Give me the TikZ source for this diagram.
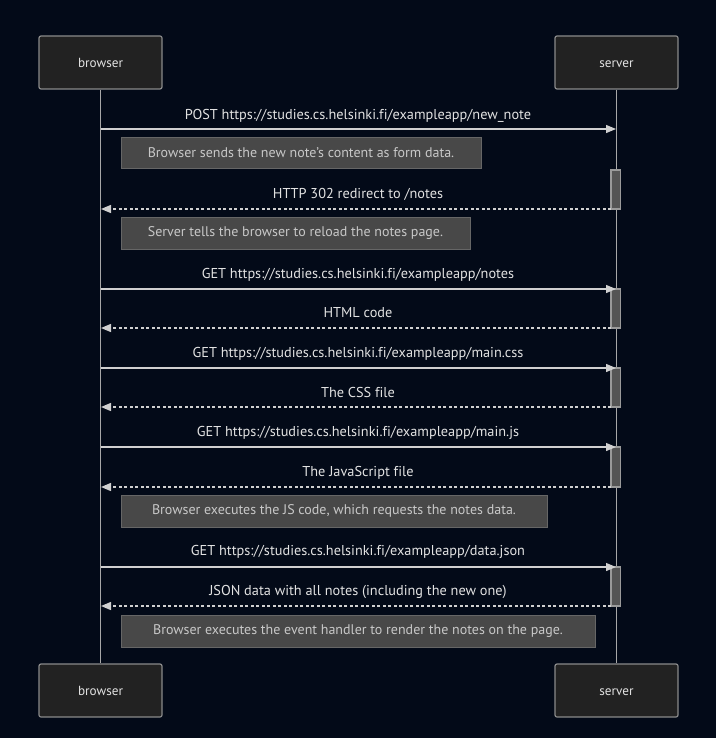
\documentclass[tikz,border=0pt]{standalone}
\usepackage{fontspec}
\setmainfont[Ligatures={NoCommon}]{PT Sans}
\usetikzlibrary{arrows.meta}
\definecolor{bgc}{HTML}{030A18}
\definecolor{actfill}{HTML}{222222}
\definecolor{actline}{HTML}{8A8A8A}
\definecolor{lifeln}{HTML}{A8A8A8}
\definecolor{msgln}{HTML}{D0D0D0}
\definecolor{msgtxt}{HTML}{E2E2E2}
\definecolor{notefill}{HTML}{484848}
\definecolor{noteline}{HTML}{666666}
\definecolor{notetxt}{HTML}{C8C8C8}
\definecolor{actvfill}{HTML}{555555}
\definecolor{actvline}{HTML}{9A9A9A}
\tikzset{
  actor/.style={draw=actline, line width=1.2pt, fill=actfill, rounded corners=2pt,
    minimum width=123pt, minimum height=53pt, inner sep=0pt,
    text height=10pt, text depth=0pt,
    text=msgtxt, font=\fontsize{13.2}{15}\selectfont},
  lifeline/.style={draw=lifeln, line width=1pt},
  req/.style={draw=msgln, line width=1.2pt, -{Triangle[length=10pt,width=8pt]}},
  resp/.style={draw=msgln, line width=1.4pt, dash pattern=on 3pt off 2.5pt,
    -{Triangle[length=10pt,width=8pt]}},
  msglabel/.style={text=msgtxt, font=\fontsize{14.3}{16}\selectfont, inner sep=0pt,
    text height=10.5pt, text depth=3pt},
  notebox/.style={draw=noteline, line width=1pt, fill=notefill, inner sep=0pt,
    text height=10.5pt, text depth=3pt,
    text=notetxt, font=\fontsize{14}{16}\selectfont},
  activation/.style={draw=actvline, line width=1.2pt, fill=actvfill}
}
\begin{document}
\begin{tikzpicture}[x=1pt,y=-1pt]
  \fill[bgc] (0,0) rectangle (716,738);
  \useasboundingbox (0,0) rectangle (716,738);

  % participants
  \node[actor] (bTop) at (100.5,62.5) {browser};
  \node[actor] (sTop) at (616.5,62.5) {server};
  \node[actor] (bBot) at (100.5,690.5) {browser};
  \node[actor] (sBot) at (616.5,690.5) {server};

  % lifelines
  \draw[lifeline] (bTop.south) -- (bBot.north);
  \draw[lifeline] (sTop.south) -- (sBot.north);

  % activation bars on the server
  \foreach \n/\ya/\yb in {1/170/209, 2/289/328, 3/368/407, 4/447/487, 5/567/606}
    \draw[activation] (611,\ya) rectangle (620.5,\yb) coordinate (act\n);

  % message end points on the lifelines
  \foreach \n/\y in {m1/129, m3/289, m5/368, m7/447, m9/567}{
    \coordinate (b\n) at (101,\y);
    \coordinate (s\n) at (616,\y);
  }
  \foreach \n/\y in {m2/209, m4/328, m6/407, m8/487, m10/606}{
    \coordinate (b\n) at (101,\y);
    \coordinate (s\n) at (611,\y);
  }

  % messages
  \draw[req] (bm1) -- (sm1);
  \node[msglabel] (l1) at (358,115.5) {POST https://studies.cs.helsinki.fi/exampleapp/new\_note};
  \node[notebox, minimum width=360pt, minimum height=31pt] (n1) at (301,153.5)
    {Browser sends the new note's content as form data.};

  \draw[resp] (sm2) -- (bm2);
  \node[msglabel] (l2) at (358,194.5) {HTTP 302 redirect to /notes};
  \node[notebox, minimum width=349pt, minimum height=32pt] (n2) at (295.5,233)
    {Server tells the browser to reload the notes page.};

  \draw[req] (bm3) -- (sm3);
  \node[msglabel] (l3) at (358,274.5) {GET https://studies.cs.helsinki.fi/exampleapp/notes};

  \draw[resp] (sm4) -- (bm4);
  \node[msglabel] (l4) at (358,313.5) {HTML code};

  \draw[req] (bm5) -- (sm5);
  \node[msglabel] (l5) at (358,353.5) {GET https://studies.cs.helsinki.fi/exampleapp/main.css};

  \draw[resp] (sm6) -- (bm6);
  \node[msglabel] (l6) at (358,393.5) {The CSS file};

  \draw[req] (bm7) -- (sm7);
  \node[msglabel] (l7) at (358,432.5) {GET https://studies.cs.helsinki.fi/exampleapp/main.js};

  \draw[resp] (sm8) -- (bm8);
  \node[msglabel] (l8) at (358,472.5) {The JavaScript file};
  \node[notebox, minimum width=426pt, minimum height=32pt] (n3) at (334,511)
    {Browser executes the JS code, which requests the notes data.};

  \draw[req] (bm9) -- (sm9);
  \node[msglabel] (l9) at (358,551.5) {GET https://studies.cs.helsinki.fi/exampleapp/data.json};

  \draw[resp] (sm10) -- (bm10);
  \node[msglabel] (l10) at (358,591.5) {JSON data with all notes (including the new one)};
  \node[notebox, minimum width=474pt, minimum height=32pt] (n4) at (358,631)
    {Browser executes the event handler to render the notes on the page.};
\end{tikzpicture}
\end{document}
